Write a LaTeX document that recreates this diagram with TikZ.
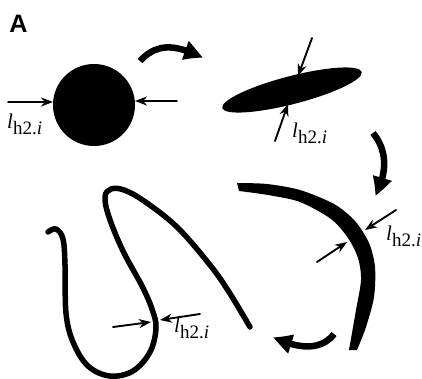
\documentclass[tikz,border=0pt]{standalone}
\usepackage{fontspec}
\setmainfont{Liberation Serif}
\newfontfamily\panelfont{Liberation Sans}
\usetikzlibrary{arrows.meta,bending}
\newcommand{\lhi}{\textit{l}\raisebox{-0.3em}{\fontsize{19}{19}\selectfont h2.\textit{i}}}
\tikzset{
  every picture/.style={line join=round, line cap=round},
  meas/.style={line width=1.9pt, -{Stealth[length=12pt,width=9pt]}},
  turn/.style={line width=6.5pt, line cap=butt, -{Triangle[length=20pt,width=18pt,bend]}},
  lab/.style={anchor=base west, inner sep=0pt, font=\fontsize{21}{21}\selectfont},
}
\begin{document}
\begin{tikzpicture}[x=1pt,y=-1pt]
\useasboundingbox (0,0) rectangle (422,378);
\node[anchor=base west,inner sep=0pt,scale=1.4] (panel) at (9,32) {\fontsize{18}{18}\selectfont\panelfont\bfseries A};
% round particle
\fill (94,105) circle (41);
\coordinate (rl0) at (8,102);  \coordinate (rl1) at (53,102);
\coordinate (rr0) at (177,101); \coordinate (rr1) at (135,101);
\draw[meas] (rl0)--(rl1);
\draw[meas] (rr0)--(rr1);
\node[lab] (lab1) at (7,128) {\lhi};
\draw[turn] (140,61) .. controls (155,45) and (172,42) .. (203,58);
% flattened particle
\fill[rotate around={14.5:(292,90)}] (292,90) ellipse (72 and 14);
\coordinate (et0) at (312,38);  \coordinate (et1) at (298,76);
\coordinate (eb0) at (275,141); \coordinate (eb1) at (288,104);
\draw[meas] (et0)--(et1);
\draw[meas] (eb0)--(eb1);
\node[lab] (lab2) at (292,137) {\lhi};
\draw[turn] (373,133) .. controls (387,150) and (388,172) .. (375,196);
% bent particle
\fill plot[smooth] coordinates {(237,183) (267,184) (300,190) (334,204) (355,221) (369,243) (375,267) (374,297) (366,327) (357,350)}
  -- plot[smooth] coordinates {(349,350) (356,310) (361,280) (358,258) (348,238) (331,219) (300,202) (268,195) (239,191)} -- cycle;
\coordinate (ct0) at (396,210); \coordinate (ct1) at (365,230);
\coordinate (cb0) at (317,262); \coordinate (cb1) at (347,242);
\draw[meas] (ct0)--(ct1);
\draw[meas] (cb0)--(cb1);
\node[lab] (lab3) at (386,240) {\lhi};
\draw[turn] (334,334) .. controls (322,350) and (300,350) .. (273,337);
% coiled fibre
\draw[line width=5.5pt] plot[smooth,tension=0.6] coordinates {(48,232) (56,229) (63,239) (65,265) (66,313) (73,342) (88,366) (110,376) (133,371) (150,352) (156,328) (152,309) (142,286) (123,251) (109,217) (105,197) (111,189) (124,190) (144,201) (177,227) (210,265) (229,292) (250,327)};
\coordinate (fl0) at (113,327); \coordinate (fl1) at (151,322);
\coordinate (fr0) at (200,314); \coordinate (fr1) at (160,320);
\draw[meas] (fl0)--(fl1);
\draw[meas] (fr0)--(fr1);
\node[lab] (lab4) at (174,332) {\lhi};
\end{tikzpicture}
\end{document}
